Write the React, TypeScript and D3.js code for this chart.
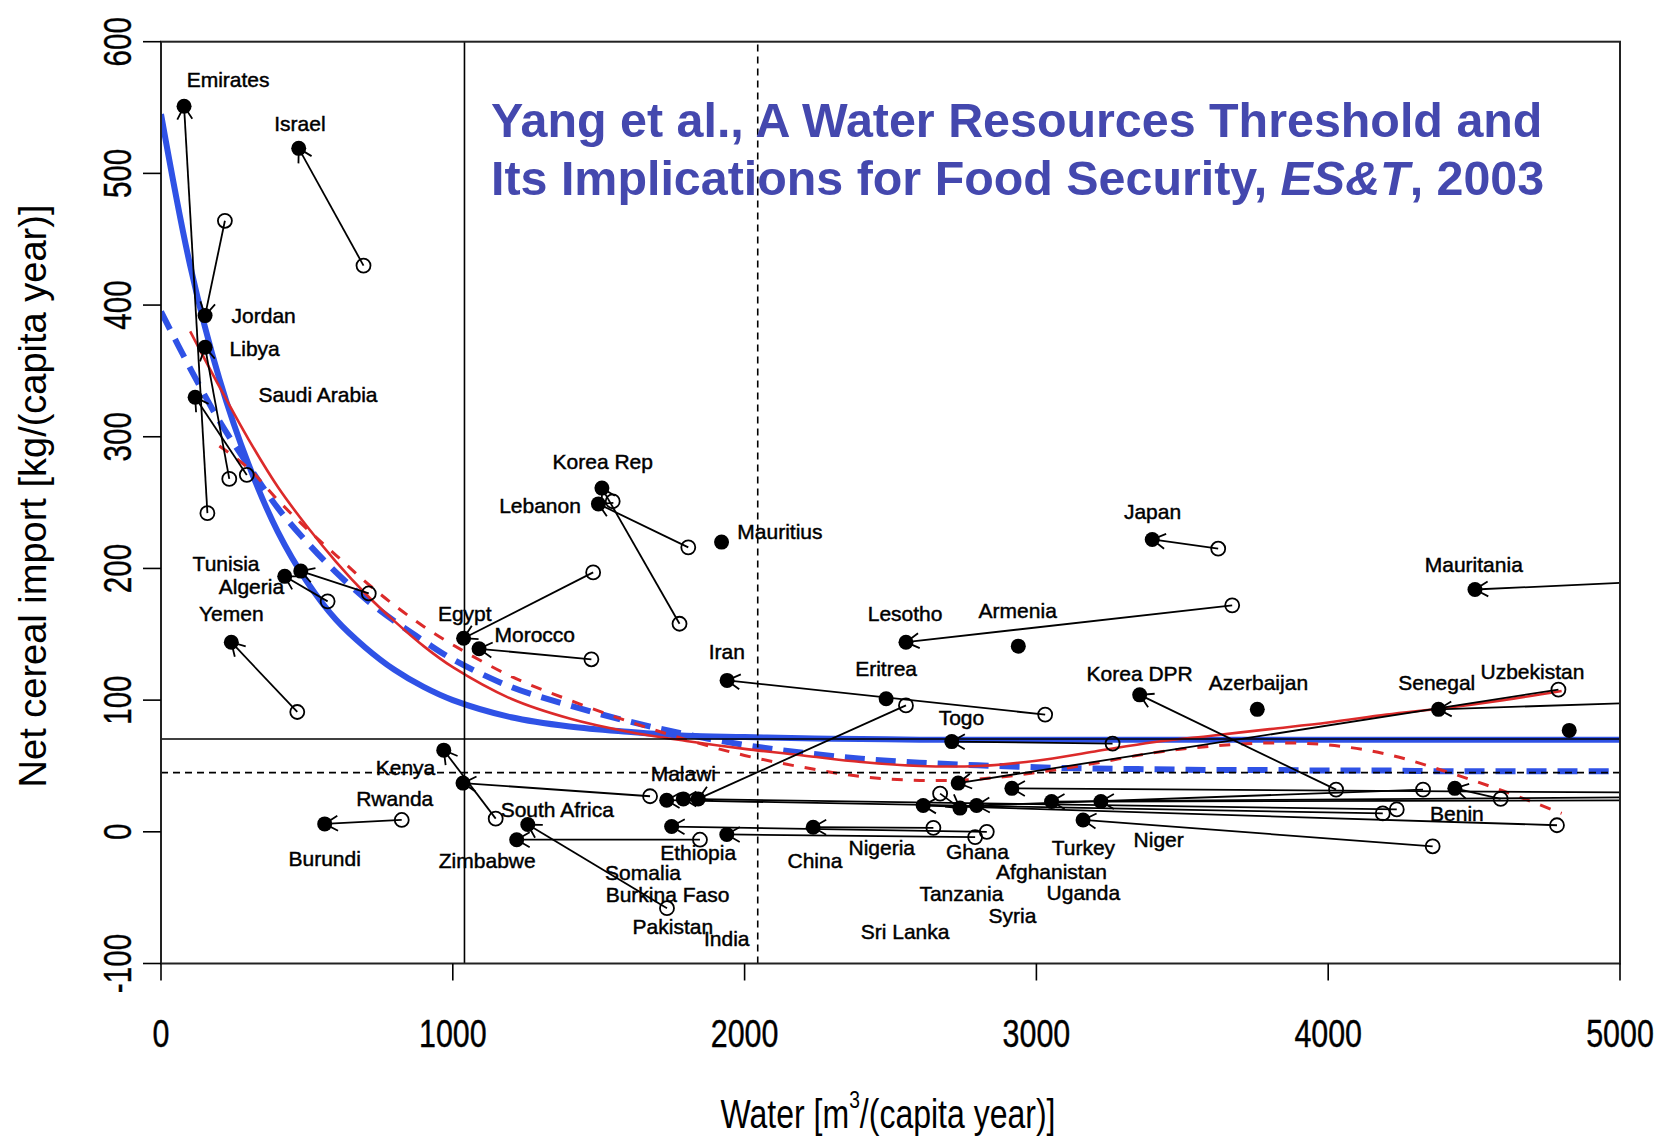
import React from 'react';
import * as d3 from 'd3';

// ---------- axes ----------
const xTicks = [0, 1000, 2000, 3000, 4000, 5000];
const yTicks = [-100, 0, 100, 200, 300, 400, 500, 600];

// ---------- fitted curves ----------
const curveGrid = [0, 100, 200, 300, 400, 500, 600, 700, 800, 900, 1000, 1200, 1400, 1600, 1800, 2000, 2200, 2400, 2600, 2800, 3000, 3200, 3400, 3600, 3800, 4000, 4200, 4400, 4600, 4800, 5000];
const blueSolid = [545, 430, 344, 279, 228, 190, 161, 140, 123, 110, 100, 87, 80, 76, 73, 72, 71, 70.5, 70, 70, 70, 70, 70, 70, 70, 70, 70, 70, 70, 70, 70];
const blueDashed = [395, 352, 312, 278, 246, 220, 197, 177, 160, 145, 131, 110, 96, 84, 74, 66, 60, 55.5, 52.5, 50.5, 49, 48, 47.5, 47, 47, 46.5, 46.5, 46, 46, 46, 46];
const redSolid = [null, 380, 338, 298, 262, 232, 205, 181, 160, 141, 125, 101, 86, 76, 69, 63, 58, 53, 50, 50, 54, 61, 68, 73, 78, 83, 89, 94, 100, 107, null];
const redDashed = [null, null, 293, 276, 252, 230, 210, 190, 172, 156, 142, 118, 100, 84, 70, 58, 49, 42, 39, 40, 45, 52, 60, 65, 67.5, 66, 59, 46, 31, 14, null];

// ---------- reference lines ----------
const hSolid = 70.5;
const hDotted = 45;
const vSolid = 1040;
const vDashed = 2045;

// ---------- countries: open circle = earlier, filled = later ----------
const countryNames = ['Emirates', 'Israel', 'Jordan', 'Libya', 'Saudi Arabia', 'Tunisia', 'Algeria', 'Yemen', 'Egypt', 'Morocco', 'Korea Rep', 'Lebanon', 'extra1', 'Mauritius', 'Iran', 'Eritrea', 'Lesotho', 'Armenia', 'Japan', 'Korea DPR', 'Azerbaijan', 'Togo', 'Mauritania', 'Senegal', 'Uzbekistan', 'Benin', 'Kenya', 'Rwanda', 'Burundi', 'Zimbabwe', 'South Africa', 'Malawi', 'c33', 'c34', 'Ethiopia', 'India', 'China', 'c38', 'c39', 'c40', 'c41', 'c42', 'c43', 'c44', 'c45'];
const openX = [159, 694, 219, 234, 294, 571, 712, 467, 1481, 1475, 1777, 1807, 1548, null, 3030, null, 3671, null, 3623, 4027, null, 3261, 5600, 5600, null, 4591, 1147, 1676, 825, 1847, 1734, 4187, 4235, 2553, 2830, 2790, 2647, 4784, 2670, 5600, 4325, 5500, 4358, 5400, 4789];
const openY = [242, 430, 464, 268, 271, 175, 181, 91, 197, 131, 158, 216, 251, null, 89, null, 172, null, 215, 32, null, 67, 195, 102, null, 25, 10, 27, 9, -6, -58, 14, 17, 96, 0, -4, 3, 5, 29, 29, 32, 27, -11, 24, 108];
const filledX = [79, 472, 151, 151, 117, 424, 479, 241, 1037, 1090, 1511, 1499, null, 1921, 1940, 2485, 2553, 2938, 3397, 3354, 3757, 2710, 4503, 4378, 4826, 4434, 969, 1035, 561, 1219, 1257, 1733, 1790, 1841, 1750, 1939, 2235, 2612, 2738, 2916, 2795, 3052, 3160, 3221, 2732];
const filledY = [551, 519, 392, 368, 330, 194, 198, 144, 147, 139, 261, 249, null, 220, 115, 101, 144, 141, 222, 104, 93, 68.5, 184, 93, 77, 33, 62, 37, 6, -6, 5.5, 24, 25, 25, 4, -2, 3.5, 20, 18, 33, 20, 23, 9, 23, 37];

// ---------- text labels ----------
const labelNames = ['Emirates', 'Israel', 'Jordan', 'Libya', 'Saudi Arabia', 'Korea Rep', 'Lebanon', 'Mauritius', 'Tunisia', 'Algeria', 'Yemen', 'Egypt', 'Morocco', 'Iran', 'Eritrea', 'Lesotho', 'Armenia', 'Japan', 'Korea DPR', 'Azerbaijan', 'Togo', 'Mauritania', 'Senegal', 'Uzbekistan', 'Benin', 'Niger', 'Kenya', 'Rwanda', 'Burundi', 'Zimbabwe', 'South Africa', 'Malawi', 'Ethiopia', 'Somalia', 'Burkina Faso', 'Pakistan', 'India', 'China', 'Nigeria', 'Sri Lanka', 'Ghana', 'Tanzania', 'Syria', 'Turkey', 'Afghanistan', 'Uganda'];
const labelX = [230, 476, 352, 321, 538, 1514, 1299, 2121, 223, 310, 241, 1041, 1281, 1939, 2485, 2550, 2936, 3398, 3354, 3761, 2743, 4499, 4372, 4700, 4441, 3419, 838, 801, 561, 1118, 1358, 1790, 1841, 1652, 1736, 1754, 1939, 2241, 2470, 2550, 2798, 2743, 2918, 3161, 3052, 3161];
const labelY = [571, 538, 392, 367, 332, 281, 248, 228, 204, 186, 166, 166, 150, 137, 124, 166, 168, 243, 120, 113, 87, 203, 113, 122, 14, -6, 49, 25, -20, -22, 17, 44, -16, -31, -48, -72, -81, -22, -12, -76, -15, -47, -64, -12, -30, -46];

const W = 1665;
const H = 1138;

export default function App() {
  const x = d3.scaleLinear().domain([0, 5000]).range([161, 1620]);
  const y = d3.scaleLinear().domain([-100, 600]).range([963.5, 41.7]);

  const mkLine = (vals: (number | null)[]) => {
    const pts = curveGrid.map((g, i) => [g, vals[i]] as [number, number | null]);
    return (
      d3
        .line<[number, number | null]>()
        .defined((d) => d[1] != null)
        .x((d) => x(d[0]))
        .y((d) => y(d[1] as number))
        .curve(d3.curveCatmullRom.alpha(0.5))(pts) || ''
    );
  };

  const blue = '#2f52e6';
  const red = '#dc2a2a';
  const [px0, px1] = x.range();
  const [py0, py1] = y.range();

  const arrows = countryNames.map((n, i) => {
    const ox = openX[i], oy = openY[i], fx = filledX[i], fy = filledY[i];
    if (ox == null || fx == null || oy == null || fy == null) return null;
    const X1 = x(fx), Y1 = y(fy), X0 = x(ox), Y0 = y(oy);
    const dx = X0 - X1, dy = Y0 - Y1;
    const len = Math.hypot(dx, dy) || 1;
    const ux = dx / len, uy = dy / len;
    const L = 15, a = Math.PI / 6;
    const h1 = [X1 + L * (ux * Math.cos(a) - uy * Math.sin(a)), Y1 + L * (ux * Math.sin(a) + uy * Math.cos(a))];
    const h2 = [X1 + L * (ux * Math.cos(-a) - uy * Math.sin(-a)), Y1 + L * (ux * Math.sin(-a) + uy * Math.cos(-a))];
    return (
      <g key={'a' + i}>
        <line x1={X0} y1={Y0} x2={X1} y2={Y1} stroke="#000" strokeWidth={1.8} />
        <polyline points={`${h1[0]},${h1[1]} ${X1},${Y1} ${h2[0]},${h2[1]}`} fill="none" stroke="#000" strokeWidth={1.8} />
      </g>
    );
  });

  const font = '"Liberation Sans", Arial, sans-serif';

  return (
    <svg width={W} height={H} style={{ position: 'absolute', left: 0, top: 0, background: '#fff' }} fontFamily={font}>
      <rect x={0} y={0} width={W} height={H} fill="#fff" />
      <defs>
        <clipPath id="plotClip">
          <rect x={px0} y={py1} width={px1 - px0} height={py0 - py1} />
        </clipPath>
      </defs>

      <g clipPath="url(#plotClip)">
        {/* fitted curves */}
        <path d={mkLine(blueSolid)} fill="none" stroke={blue} strokeWidth={6} />
        <path d={mkLine(blueDashed)} fill="none" stroke={blue} strokeWidth={6} strokeDasharray="20 11" />
        <path d={mkLine(redSolid)} fill="none" stroke={red} strokeWidth={2.6} />
        <path d={mkLine(redDashed)} fill="none" stroke={red} strokeWidth={3} strokeDasharray="11 11" />

        {/* reference lines */}
        <line x1={px0} x2={px1} y1={y(hSolid)} y2={y(hSolid)} stroke="#000" strokeWidth={1.6} />
        <line x1={px0} x2={px1} y1={y(hDotted)} y2={y(hDotted)} stroke="#000" strokeWidth={1.8} strokeDasharray="7 5" />
        <line x1={x(vSolid)} x2={x(vSolid)} y1={py0} y2={py1} stroke="#000" strokeWidth={1.6} />
        <line x1={x(vDashed)} x2={x(vDashed)} y1={py0} y2={py1} stroke="#000" strokeWidth={1.6} strokeDasharray="7 5" />

        {/* arrows */}
        {arrows}

        {/* open circles */}
        {countryNames.map((n, i) =>
          openX[i] != null && openY[i] != null ? (
            <circle key={'o' + i} cx={x(openX[i] as number)} cy={y(openY[i] as number)} r={7} fill="none" stroke="#000" strokeWidth={1.8} />
          ) : null
        )}
        {/* filled points */}
        {countryNames.map((n, i) =>
          filledX[i] != null && filledY[i] != null ? (
            <circle key={'f' + i} cx={x(filledX[i] as number)} cy={y(filledY[i] as number)} r={7.5} fill="#000" />
          ) : null
        )}

        {/* labels */}
        {labelNames.map((n, i) => (
          <text key={'l' + i} x={x(labelX[i])} y={y(labelY[i])} dy="0.35em" textAnchor="middle" fontSize={21} fill="#000" stroke="#000" strokeWidth={0.45}>
            {n}
          </text>
        ))}
      </g>

      {/* box */}
      <rect x={px0} y={py1} width={px1 - px0} height={py0 - py1} fill="none" stroke="#222" strokeWidth={2} />

      {/* x axis ticks */}
      {xTicks.map((t) => (
        <g key={'xt' + t}>
          <line x1={x(t)} x2={x(t)} y1={py0} y2={py0 + 17} stroke="#000" strokeWidth={1.6} />
          <text transform={`translate(${x(t)},1047) scale(0.8,1)`} textAnchor="middle" fontSize={38} fill="#000" stroke="#000" strokeWidth={0.4}>
            {t}
          </text>
        </g>
      ))}

      {/* y axis ticks */}
      {yTicks.map((t) => (
        <g key={'yt' + t}>
          <line x1={px0} x2={px0 - 18} y1={y(t)} y2={y(t)} stroke="#000" strokeWidth={1.6} />
          <text transform={`translate(131,${y(t)}) rotate(-90) scale(0.78,1)`} textAnchor="middle" fontSize={38} fill="#000" stroke="#000" strokeWidth={0.4}>
            {t}
          </text>
        </g>
      ))}

      {/* axis titles */}
      <text transform="translate(46,496) rotate(-90)" textAnchor="middle" fontSize={38} fill="#000">
        Net cereal import [kg/(capita year)]
      </text>
      <text transform="translate(888,1128) scale(0.8,1)" textAnchor="middle" fontSize={40} fill="#000">
        Water [m<tspan dy={-20} fontSize={24}>3</tspan>
        <tspan dy={20}>/(capita year)]</tspan>
      </text>

      {/* title */}
      <g fontFamily={font} fontWeight="bold" fontSize={48.4} fill="#4448AE">
        <text x={491} y={137}>Yang et al., A Water Resources Threshold and</text>
        <text x={491} y={195}>
          Its Implications for Food Security, <tspan fontStyle="italic">ES&amp;T</tspan>, 2003
        </text>
      </g>
    </svg>
  );
}
